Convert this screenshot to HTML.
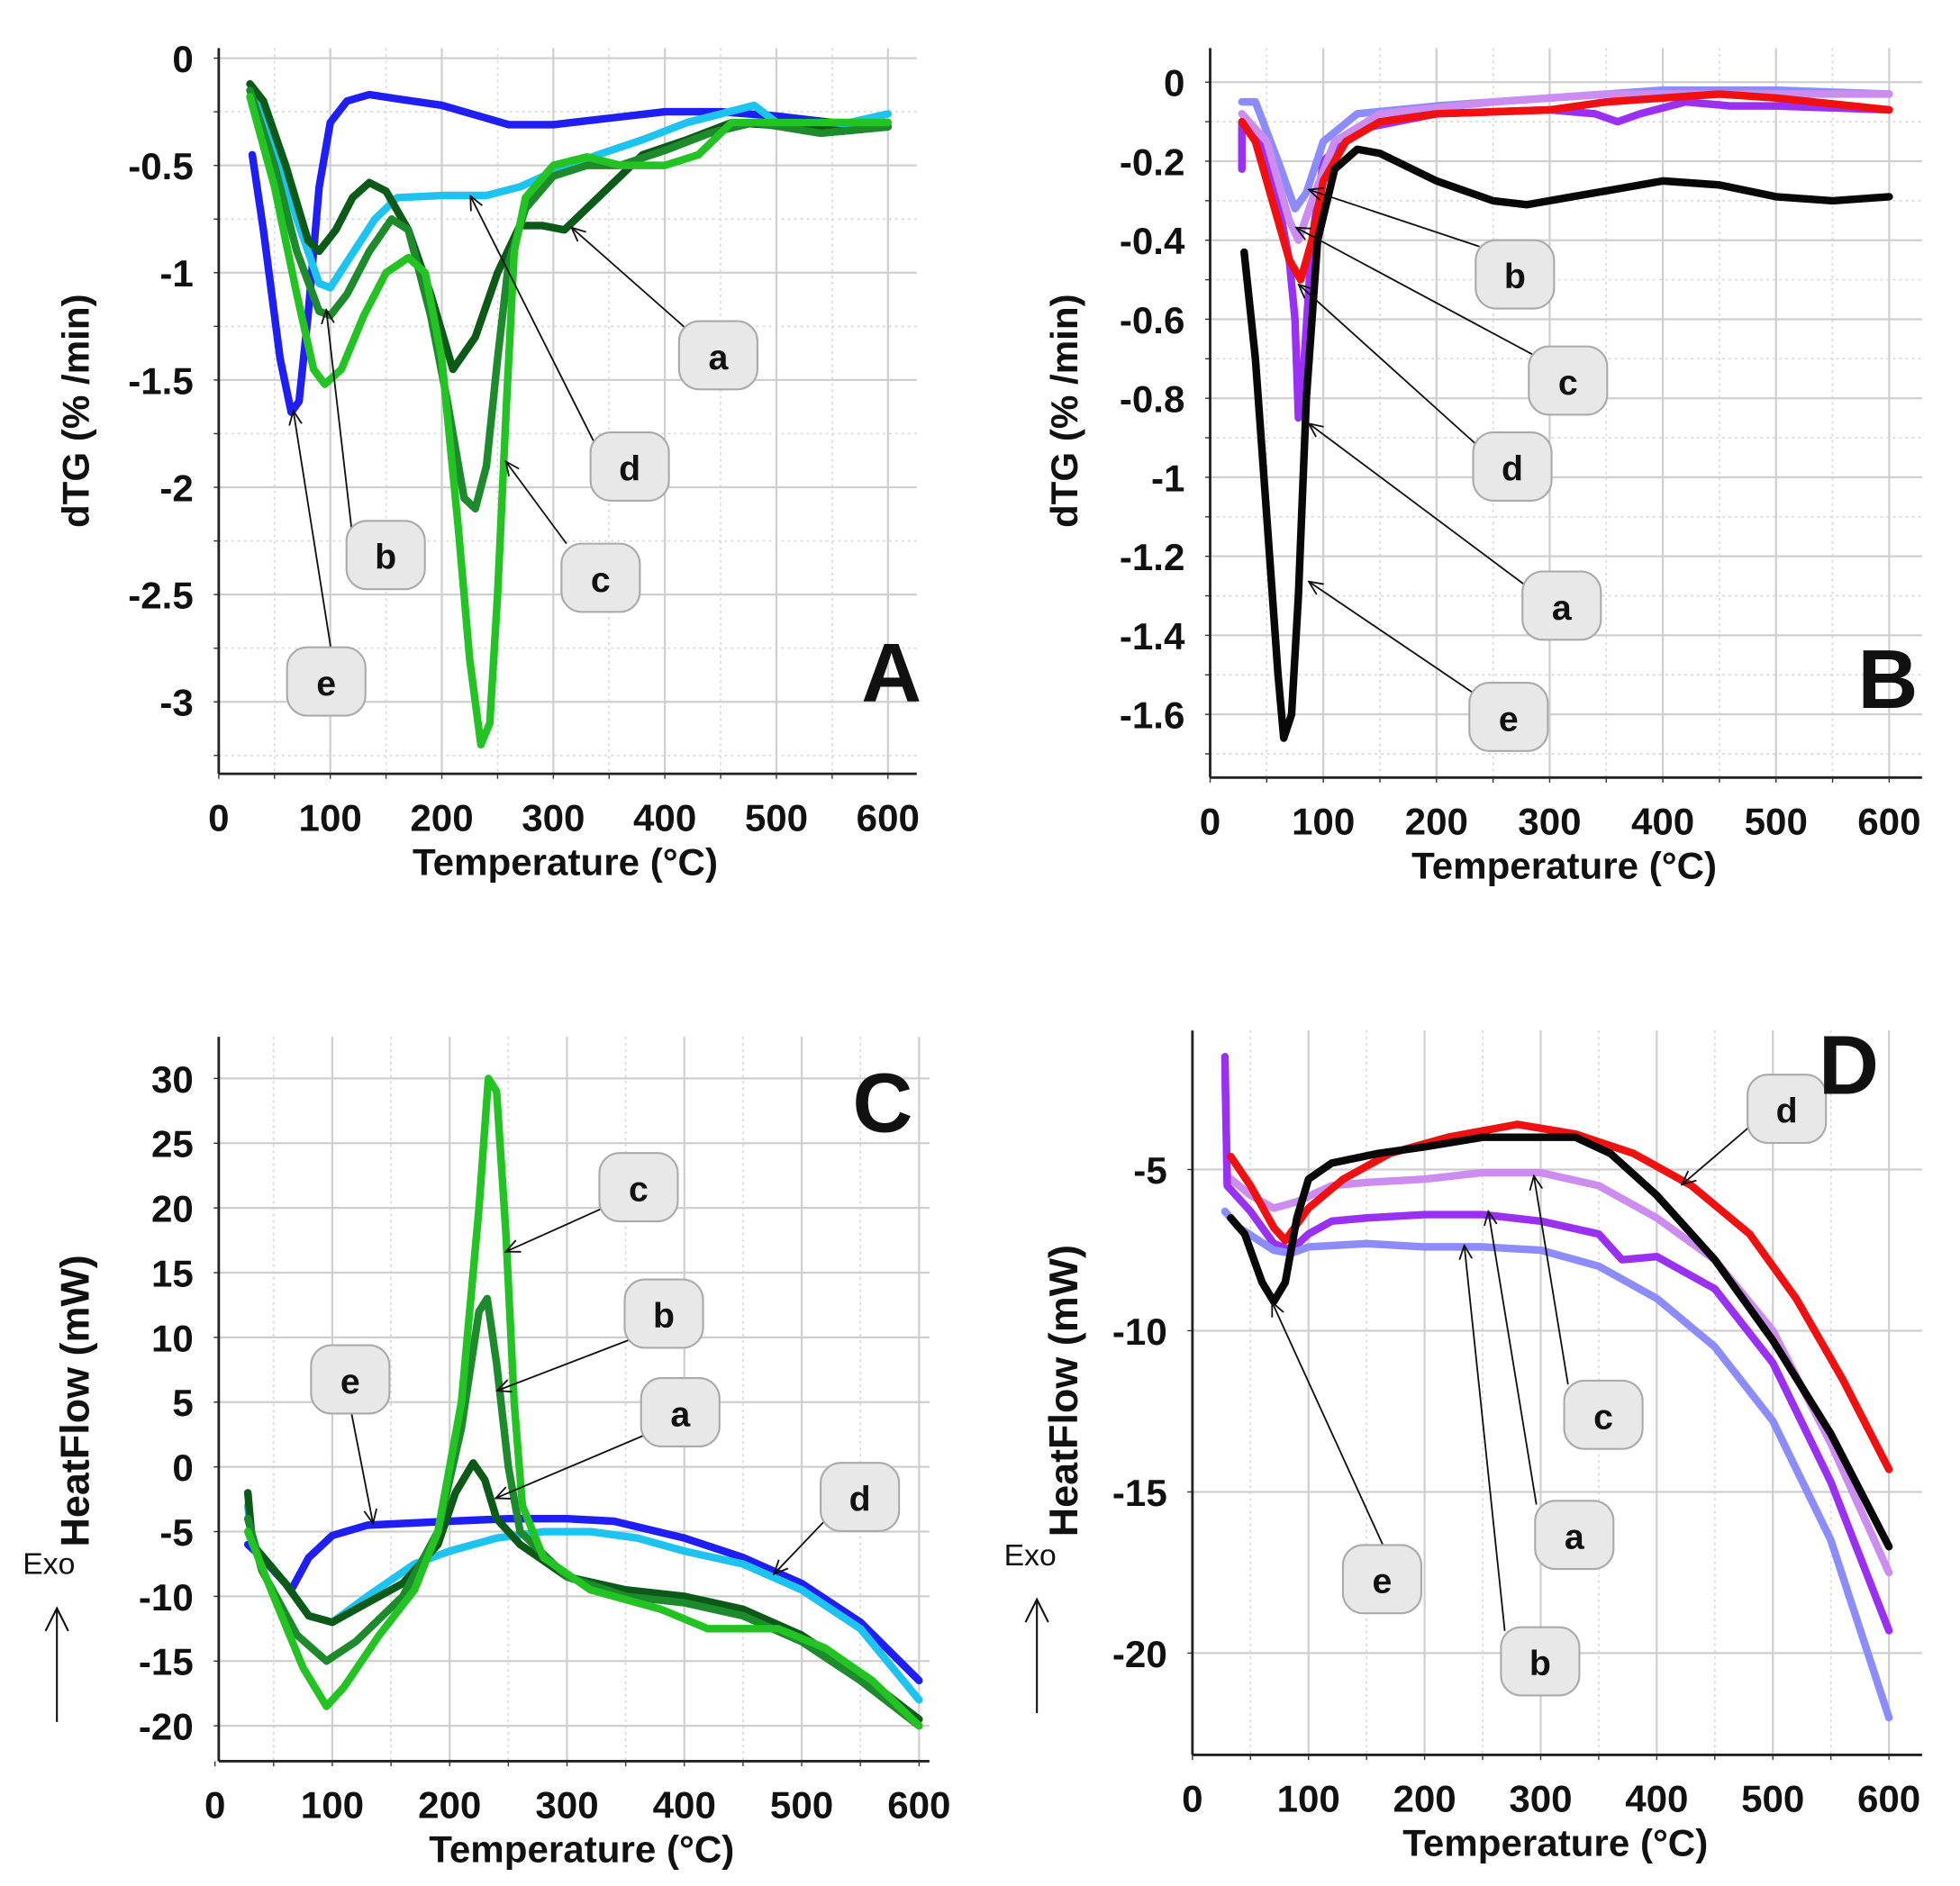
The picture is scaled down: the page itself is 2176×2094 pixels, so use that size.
<!DOCTYPE html>
<html><head><meta charset="utf-8"><style>
html,body{margin:0;padding:0;background:#fff;}
svg{display:block;}
text{font-family:"Liberation Sans",Arial,sans-serif;font-weight:bold;fill:#111;}
</style></head><body>
<svg id="s" width="2176" height="2094" viewBox="0 0 1550 1491.7" preserveAspectRatio="none" xmlns="http://www.w3.org/2000/svg">
<defs><marker id="ar" viewBox="0 0 12 12" refX="11" refY="6" markerWidth="12" markerHeight="12" markerUnits="userSpaceOnUse" orient="auto"><path d="M0,1 L11,6 L0,11" fill="none" stroke="#111" stroke-width="1.3"/></marker></defs>
</svg>
<script>
const S=document.getElementById('s');const NS='http://www.w3.org/2000/svg';
function el(t,a,txt){const e=document.createElementNS(NS,t);for(const k in a)e.setAttribute(k,a[k]);if(txt!==undefined)e.textContent=txt;S.appendChild(e);return e;}
function panel(p){
 const X=v=>p.x0+(v-0)*p.xs, Y=v=>p.y0v+(v-p.yref)*p.ys;
 for(let v=50;v<=600;v+=50){const solid=v%100==0;el('line',{x1:X(v),x2:X(v),y1:p.top,y2:p.bot,stroke:solid?'#cfcfcf':'#d8d8d8','stroke-width':solid?1.6:1.2,'stroke-dasharray':solid?'':'2,3'});}
 for(const g of p.grid){el('line',{x1:p.ax,x2:p.right,y1:Y(g.v),y2:Y(g.v),stroke:g.s?'#cfcfcf':'#d8d8d8','stroke-width':g.s?1.6:1.2,'stroke-dasharray':g.s?'':'2,3'});el('line',{x1:p.ax-4,x2:p.ax,y1:Y(g.v),y2:Y(g.v),stroke:'#333','stroke-width':1});}
 el('line',{x1:p.ax,x2:p.ax,y1:p.top,y2:p.bot,stroke:'#222','stroke-width':2});
 el('line',{x1:p.ax,x2:p.right,y1:p.bot,y2:p.bot,stroke:'#222','stroke-width':2});
 for(let v=0;v<=600;v+=50)el('line',{x1:X(v),x2:X(v),y1:p.bot,y2:p.bot+4,stroke:'#333','stroke-width':1});
 for(let v=0;v<=600;v+=100)el('text',{x:X(v),y:p.bot+45,'text-anchor':'middle','font-size':30},String(v));
 for(const l of p.yl)el('text',{x:p.ax-20,y:Y(l)+11,'text-anchor':'end','font-size':30},String(l));
 el('text',{x:p.tx,y:p.bot+80,'text-anchor':'middle','font-size':30},'Temperature (°C)');
 for(const c of p.ser){let d='';c.d.forEach((q,i)=>{d+=(i?'L':'M')+X(q[0]).toFixed(1)+','+Y(q[1]).toFixed(1)});el('path',{d:d,fill:'none',stroke:c.c,'stroke-width':6,'stroke-linejoin':'round','stroke-linecap':'round'});}
 for(const L of p.lab){el('line',{x1:L.f[0],y1:L.f[1],x2:L.t[0],y2:L.t[1],stroke:'#111','stroke-width':1.3,'marker-end':'url(#ar)'});}
 for(const L of p.lab){el('rect',{x:L.p[0]-31,y:L.p[1]-28,width:62,height:54,rx:16,fill:'#e8e8e8',stroke:'#aaa','stroke-width':1.5});el('text',{x:L.p[0],y:L.p[1]+10,'text-anchor':'middle','font-size':28},L.n);}
 el('text',{x:p.big[0],y:p.big[1],'text-anchor':'middle','font-size':66},p.big[2]);
}
const blue='#1e1ef5',cyan='#1ec4f0',dg='#0b5a18',mg='#1d8a2c',bg='#22c322';
panel({x0:173,xs:0.882,yref:0,y0v:46,ys:-169.7,ax:173,top:38,bot:612,right:725,tx:447,
 grid:[0,-0.25,-0.5,-0.75,-1,-1.25,-1.5,-1.75,-2,-2.25,-2.5,-2.75,-3,-3.25].map((v,i)=>({v:v,s:i%2==0})),
 yl:[0,-0.5,-1,-1.5,-2,-2.5,-3],big:[705,555,'A'],
 ser:[
 {c:blue,d:[[30,-0.45],[40,-0.8],[55,-1.4],[65,-1.65],[72,-1.6],[80,-1.2],[90,-0.6],[100,-0.3],[115,-0.2],[135,-0.17],[160,-0.19],[200,-0.22],[240,-0.28],[260,-0.31],[300,-0.31],[350,-0.28],[400,-0.25],[450,-0.25],[500,-0.27],[550,-0.3],[600,-0.3]]},
 {c:cyan,d:[[28,-0.15],[50,-0.4],[70,-0.75],[90,-1.05],[100,-1.07],[115,-0.95],[140,-0.75],[160,-0.65],[200,-0.64],[240,-0.64],[270,-0.6],[300,-0.53],[340,-0.45],[380,-0.38],[420,-0.3],[480,-0.22],[500,-0.3],[540,-0.33],[600,-0.26]]},
 {c:dg,d:[[28,-0.12],[40,-0.2],[60,-0.5],[80,-0.85],[90,-0.9],[105,-0.8],[120,-0.65],[135,-0.58],[150,-0.62],[170,-0.8],[190,-1.1],[210,-1.45],[230,-1.3],[250,-1.0],[270,-0.78],[290,-0.78],[310,-0.8],[340,-0.65],[380,-0.45],[420,-0.38],[460,-0.3],[520,-0.32],[560,-0.34],[600,-0.32]]},
 {c:mg,d:[[28,-0.15],[50,-0.5],[70,-0.9],[90,-1.18],[100,-1.2],[115,-1.1],[135,-0.9],[155,-0.75],[170,-0.8],[190,-1.2],[205,-1.6],[220,-2.05],[230,-2.1],[240,-1.9],[250,-1.4],[260,-0.95],[275,-0.7],[300,-0.55],[330,-0.5],[360,-0.5],[400,-0.43],[440,-0.35],[480,-0.3],[540,-0.35],[600,-0.32]]},
 {c:bg,d:[[28,-0.18],[50,-0.6],[70,-1.1],[85,-1.45],[95,-1.52],[110,-1.45],[130,-1.2],[150,-1.0],[170,-0.93],[185,-1.0],[200,-1.4],[215,-2.2],[225,-2.8],[235,-3.2],[243,-3.1],[250,-2.5],[258,-1.6],[265,-0.9],[275,-0.65],[300,-0.5],[330,-0.46],[360,-0.5],[400,-0.5],[430,-0.45],[460,-0.3],[500,-0.3],[600,-0.3]]}],
 lab:[{n:'a',p:[568,282],f:[545,262],t:[452,180]},{n:'d',p:[498,370],f:[470,350],t:[372,155]},{n:'c',p:[475,458],f:[448,430],t:[400,365]},{n:'b',p:[305,440],f:[278,418],t:[258,245]},{n:'e',p:[258,540],f:[262,515],t:[232,325]}]});
const pur='#9b30f5',lb='#8c8cff',lv='#cc8cf0',red='#f01010',blk='#080808';
panel({x0:957,xs:0.895,yref:0,y0v:65,ys:-312.5,ax:957,top:38,bot:615,right:1520,tx:1237,
 grid:[0,-0.1,-0.2,-0.3,-0.4,-0.5,-0.6,-0.7,-0.8,-0.9,-1,-1.1,-1.2,-1.3,-1.4,-1.5,-1.6,-1.7].map((v,i)=>({v:v,s:i%2==0})),
 yl:[0,-0.2,-0.4,-0.6,-0.8,-1,-1.2,-1.4,-1.6],big:[1493,560,'B'],
 ser:[
 {c:pur,d:[[28,-0.22],[28,-0.1],[40,-0.12],[60,-0.3],[70,-0.45],[75,-0.6],[78,-0.85],[82,-0.75],[90,-0.4],[100,-0.2],[130,-0.12],[200,-0.08],[300,-0.07],[340,-0.08],[360,-0.1],[380,-0.08],[420,-0.05],[460,-0.06],[500,-0.06],[600,-0.07]]},
 {c:lb,d:[[28,-0.05],[40,-0.05],[60,-0.2],[75,-0.32],[85,-0.28],[100,-0.15],[130,-0.08],[200,-0.06],[300,-0.04],[400,-0.02],[500,-0.02],[600,-0.03]]},
 {c:lv,d:[[28,-0.08],[50,-0.15],[70,-0.35],[78,-0.4],[90,-0.3],[110,-0.15],[150,-0.08],[250,-0.05],[350,-0.03],[600,-0.03]]},
 {c:red,d:[[28,-0.1],[40,-0.15],[55,-0.3],[70,-0.45],[80,-0.5],[90,-0.4],[100,-0.25],[120,-0.15],[150,-0.1],[200,-0.08],[300,-0.07],[350,-0.05],[400,-0.04],[450,-0.03],[500,-0.04],[600,-0.07]]},
 {c:blk,d:[[30,-0.43],[40,-0.7],[50,-1.1],[60,-1.5],[65,-1.66],[72,-1.6],[78,-1.3],[85,-0.8],[95,-0.4],[110,-0.22],[130,-0.17],[150,-0.18],[200,-0.25],[250,-0.3],[280,-0.31],[320,-0.29],[360,-0.27],[400,-0.25],[450,-0.26],[500,-0.29],[550,-0.3],[600,-0.29]]}],
 lab:[{n:'b',p:[1198,218],f:[1170,195],t:[1035,150]},{n:'c',p:[1240,302],f:[1215,282],t:[1025,180]},{n:'d',p:[1196,370],f:[1168,352],t:[1027,225]},{n:'a',p:[1235,480],f:[1205,462],t:[1035,335]},{n:'e',p:[1193,568],f:[1165,548],t:[1035,460]}]});
panel({x0:170,xs:0.928,yref:30,y0v:853,ys:-10.24,ax:173,top:820,bot:1393,right:735,tx:460,
 grid:[30,25,20,15,10,5,0,-5,-10,-15,-20].map(v=>({v:v,s:true})),
 yl:[30,25,20,15,10,5,0,-5,-10,-15,-20],big:[698,895,'C'],
 ser:[
 {c:blue,d:[[28,-6],[40,-7],[65,-9.5],[80,-7],[100,-5.3],[130,-4.5],[200,-4.2],[250,-4],[300,-4],[340,-4.2],[400,-5.5],[450,-7],[500,-9],[550,-12],[600,-16.5]]},
 {c:cyan,d:[[28,-3],[32,-6],[60,-9],[80,-11.5],[100,-12],[130,-10],[170,-7.5],[200,-6.5],[240,-5.5],[280,-5],[320,-5],[360,-5.5],[400,-6.5],[450,-7.5],[500,-9.5],[550,-12.5],[600,-18]]},
 {c:dg,d:[[28,-2],[32,-6],[60,-9],[80,-11.5],[100,-12],[130,-10.5],[160,-9],[190,-6],[205,-2],[220,0.3],[230,-1],[240,-4],[260,-6],[300,-8.5],[350,-9.5],[400,-10],[450,-11],[500,-13],[550,-16],[600,-19.5]]},
 {c:mg,d:[[28,-4],[40,-8],[70,-13],[95,-15],[120,-13.5],[160,-10],[190,-5],[210,3],[225,12],[232,13],[240,8],[250,0],[260,-5],[300,-8.5],[350,-10],[400,-10.5],[450,-11.5],[500,-13.5],[550,-16.5],[600,-20]]},
 {c:bg,d:[[28,-5],[50,-10],[75,-15.5],[95,-18.5],[110,-17],[140,-13],[170,-9.5],[190,-5],[210,5],[225,20],[233,30],[240,29],[248,18],[255,5],[262,-3],[280,-7],[320,-9.5],[380,-11],[420,-12.5],[450,-12.5],[480,-12.5],[520,-14],[560,-16.5],[600,-20]]}],
 lab:[{n:'c',p:[505,940],f:[478,955],t:[400,990]},{n:'b',p:[525,1040],f:[497,1060],t:[393,1100]},{n:'a',p:[538,1118],f:[510,1135],t:[392,1185]},{n:'e',p:[277,1092],f:[278,1118],t:[295,1205]},{n:'d',p:[680,1185],f:[655,1200],t:[612,1245]}]});
panel({x0:943,xs:0.918,yref:-5,y0v:925,ys:-25.5,ax:943,top:815,bot:1388,right:1520,tx:1230,
 grid:[-5,-10,-15,-20].map(v=>({v:v,s:true})),
 yl:[-5,-10,-15,-20],big:[1462,865,'D'],
 ser:[
 {c:lv,d:[[28,-2],[30,-5.2],[50,-5.8],[70,-6.2],[90,-6],[120,-5.5],[150,-5.4],[200,-5.3],[250,-5.1],[300,-5.1],[350,-5.5],[400,-6.5],[450,-7.8],[500,-10],[550,-13.5],[600,-17.5]]},
 {c:pur,d:[[28,-1.5],[30,-5.5],[50,-6.3],[70,-7.3],[85,-7.5],[100,-7],[120,-6.6],[150,-6.5],[200,-6.4],[250,-6.4],[300,-6.6],[350,-7],[370,-7.8],[400,-7.7],[450,-8.7],[500,-11],[550,-14.7],[600,-19.3]]},
 {c:lb,d:[[28,-6.3],[40,-6.8],[70,-7.5],[85,-7.6],[100,-7.4],[150,-7.3],[200,-7.4],[250,-7.4],[300,-7.5],[350,-8],[400,-9],[450,-10.5],[500,-12.8],[550,-16.5],[600,-22]]},
 {c:red,d:[[33,-4.6],[50,-5.5],[70,-6.8],[80,-7.2],[100,-6.2],[130,-5.3],[170,-4.5],[220,-4],[280,-3.6],[330,-3.9],[380,-4.5],[430,-5.5],[480,-7],[520,-9],[560,-11.5],[600,-14.3]]},
 {c:blk,d:[[33,-6.5],[45,-7],[60,-8.5],[70,-9.1],[80,-8.5],[90,-6.5],[100,-5.3],[120,-4.8],[160,-4.5],[200,-4.3],[250,-4],[300,-4],[330,-4],[360,-4.5],[400,-5.8],[450,-7.8],[500,-10.3],[550,-13.2],[600,-16.7]]}],
 lab:[{n:'d',p:[1413,878],f:[1385,890],t:[1330,937]},{n:'c',p:[1268,1120],f:[1240,1095],t:[1213,930]},{n:'a',p:[1245,1215],f:[1215,1190],t:[1177,958]},{n:'e',p:[1093,1250],f:[1095,1225],t:[1006,1030]},{n:'b',p:[1218,1315],f:[1190,1290],t:[1158,985]}]});
el('text',{transform:'translate(70,325) rotate(-90)','text-anchor':'middle','font-size':30},'dTG (% /min)');
el('text',{transform:'translate(852,325) rotate(-90)','text-anchor':'middle','font-size':30},'dTG (% /min)');
function hf(x,y){el('text',{transform:'translate('+x+','+y+') rotate(-90)','text-anchor':'middle','font-size':32},'HeatFlow (mW)');}
hf(70,1108);hf(852,1100);
el('text',{x:18,y:1245,'font-size':24,style:'font-weight:normal'},'Exo');
el('text',{x:794,y:1238,'font-size':24,style:'font-weight:normal'},'Exo');
function up(x,y1,y2){el('line',{x1:x,x2:x,y1:y1,y2:y2,stroke:'#111','stroke-width':1.5});el('path',{d:'M'+(x-9)+','+(y2+18)+' L'+x+','+y2+' L'+(x+9)+','+(y2+18),fill:'none',stroke:'#111','stroke-width':1.5});}
up(45,1362,1272);up(820,1355,1265);
</script>
</body></html>
